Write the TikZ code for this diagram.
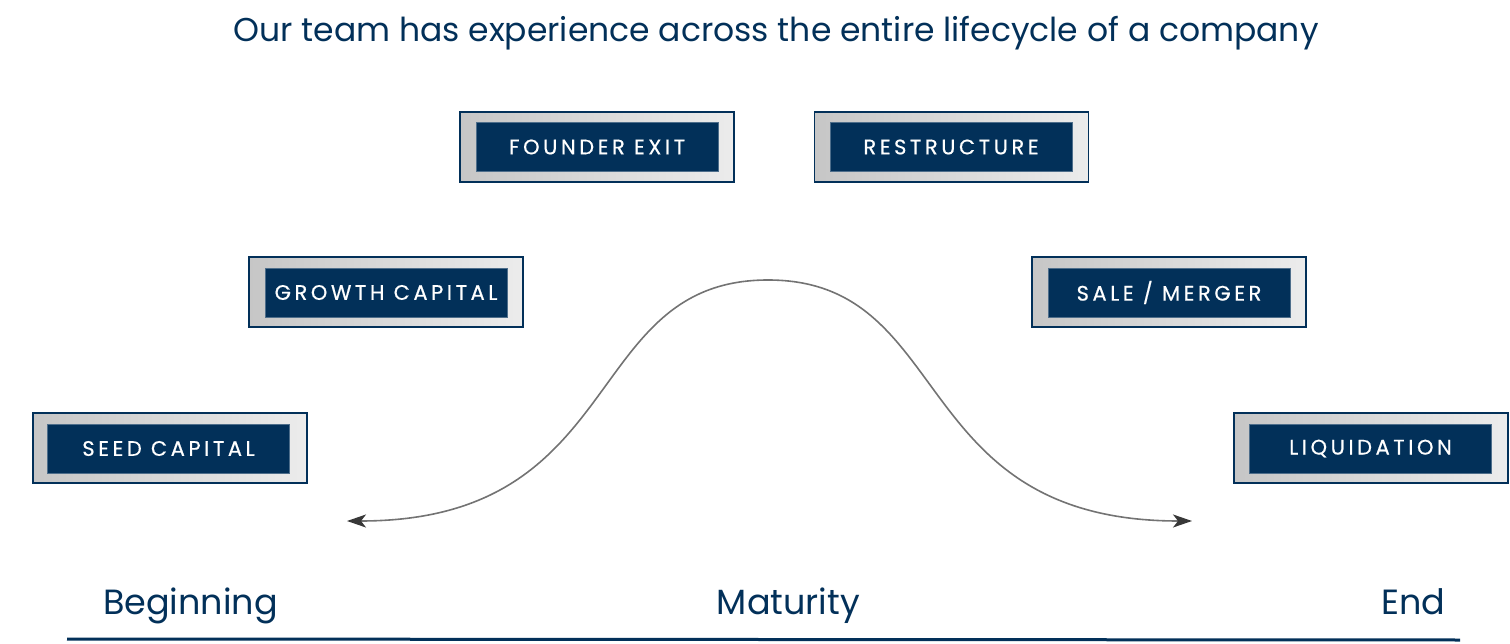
\documentclass[tikz,border=0pt]{standalone}
\usepackage{fontspec}
\setmainfont{Poppins}
\newfontfamily\boxfont[LetterSpace=17, FakeBold=0.5]{Poppins}
\usetikzlibrary{arrows.meta}
\definecolor{navy}{RGB}{2,48,89}
\definecolor{gleft}{RGB}{198,198,198}
\definecolor{gright}{RGB}{236,236,236}
\definecolor{curvegray}{RGB}{115,115,115}
\tikzset{
  outerbox/.style={draw=navy, line width=1.2pt, left color=gleft, right color=gright, minimum width=274pt, minimum height=70pt, inner sep=0pt},
  innerbox/.style={fill=navy, draw=navy!70!white, line width=0.5pt, minimum width=242pt, minimum height=49pt, inner sep=0pt, text=white, font=\boxfont\fontsize{21}{23}\selectfont},
  lbl/.style={text=navy, font=\fontsize{35}{38}\selectfont, inner sep=0pt, anchor=base},
  curvetip/.tip={Stealth[length=19pt,width=13pt,inset=5pt,color=black!78]},
}
\begin{document}
\begin{tikzpicture}[x=1pt,y=-1pt]
\useasboundingbox (0,0) rectangle (1510,644);
\node[text=navy, font=\fontsize{33}{36}\selectfont, inner sep=0pt, anchor=base] (title) at (776,42) {Our team has experience across the entire lifecycle of a company};
% boxes
\node[outerbox] (seedo) at (170,448) {};
\node[innerbox] (seed) at (168.5,448.5) {SEED CAPITAL};
\node[outerbox] (growtho) at (386,292) {};
\node[innerbox] (growth) at (386,292.5) {GROWTH CAPITAL};
\node[outerbox] (foundero) at (597,147) {};
\node[innerbox] (founder) at (597,147) {FOUNDER EXIT};
\node[outerbox] (restro) at (951.5,147) {};
\node[innerbox] (restr) at (951,147) {RESTRUCTURE};
\node[outerbox] (saleo) at (1169,292) {};
\node[innerbox] (sale) at (1169,292.5) {SALE / MERGER};
\node[outerbox] (liquo) at (1371,448) {};
\node[innerbox] (liqu) at (1370.5,448.5) {LIQUIDATION};
% curve
\coordinate (cl) at (347,521);
\coordinate (cp) at (768,280);
\coordinate (cr) at (1192,521);
\draw[curvegray, line width=1.6pt, curvetip-curvetip]
  (cl) .. controls (630,521) and (580,280) .. (cp)
       .. controls (956,280) and (906,521) .. (cr);
% bottom
\node[lbl] (beg) at (190.5,614) {Beginning};
\node[lbl] (mat) at (788.5,614) {Maturity};
\node[lbl] (end) at (1413.5,614) {End};
\coordinate (bl) at (67,639);
\coordinate (br) at (1460,640);
\draw[navy, line width=3pt] (bl) -- (br);
\end{tikzpicture}
\end{document}
